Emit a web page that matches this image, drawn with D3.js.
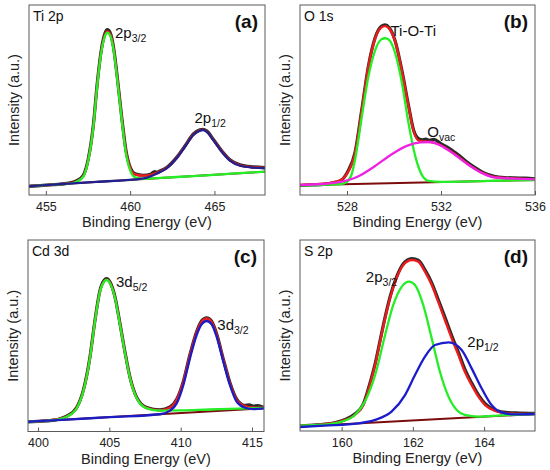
<!DOCTYPE html>
<html>
<head>
<meta charset="utf-8">
<script src="https://cdn.jsdelivr.net/npm/d3@7"></script>
<style>
  body { margin: 0; background: #fff; }
  svg { font-family: "Liberation Sans", Arial, sans-serif; }
</style>
</head>
<body>
<div id="chart"></div>
<script>
/* XPS spectra, four panels: Ti 2p, O 1s, Cd 3d, S 2p */

// ---- (a) Ti 2p : [binding energy, intensity %] ----
var tiTicks = [455, 460, 465];
var tiBg = [[454, 4.7], [468, 12.3]];
var tiData = [[454,4.5],[455,5.2],[456,5.9],[456.5,6.5],[456.83,7.6],[457.22,10.4],[457.52,19.2],[457.82,37],[458.06,59.8],[458.31,77.5],[458.51,85.2],[458.65,87],[458.81,85.5],[459.0,78.5],[459.24,61.8],[459.5,41],[459.75,23.6],[460.03,14],[460.29,11.2],[460.78,10.4],[461.2,10.9],[461.45,12.3],[461.6,12.0],[461.75,12.6],[462.16,14.4],[462.76,19.8],[463.25,25.8],[463.75,32.1],[464.14,34.3],[464.3,34.6],[464.54,33.8],[464.93,29.4],[465.43,23.3],[465.92,18.6],[466.52,15.9],[467.31,14.8],[468,14.4]];
var tiFit = [[454,4.7],[456.5,6.3],[456.83,7.2],[457.22,9.9],[457.52,18.8],[457.82,36.5],[458.06,59.3],[458.31,76.9],[458.51,84.4],[458.65,86.1],[458.81,84.8],[459.0,78.1],[459.24,61.5],[459.5,40.6],[459.75,23.2],[460.03,13.7],[460.29,10.8],[460.78,10.2],[461.2,10.6],[461.57,11.6],[462.16,14.2],[462.76,19.5],[463.25,25.6],[463.75,31.8],[464.14,34.0],[464.3,34.4],[464.54,33.5],[464.93,29.1],[465.43,23.0],[465.92,18.3],[466.52,15.6],[467.31,14.6],[468,14.2]];
var tiP32 = [[454,4.7],[455.5,5.5],[456.5,6.1],[456.83,7.0],[457.22,9.6],[457.52,18.4],[457.82,36],[458.06,58.8],[458.31,76.3],[458.51,83.7],[458.65,85.4],[458.81,84],[459.0,77.2],[459.24,60.5],[459.5,39.5],[459.75,21.9],[460.03,12.3],[460.29,9.3],[460.78,8.5],[462,9.1],[464,10.1],[466,11.2],[468,12.3]];
var tiP12 = [[454,4.7],[456,5.8],[458,6.9],[460,8.0],[460.5,8.4],[461,9.2],[461.57,11.2],[462.16,14.0],[462.76,19.3],[463.25,25.4],[463.75,31.6],[464.14,33.8],[464.3,34.2],[464.54,33.3],[464.93,28.9],[465.43,22.8],[465.92,18.1],[466.52,15.4],[467.31,14.4],[468,14.0]];

// ---- (b) O 1s ----
var oTicks = [528, 532, 536];
var oBg = [[526, 5.1], [536, 7.9]];
var oData = [[526,5.0],[526.5,5.3],[527,5.6],[527.4,6.4],[527.73,7.6],[528.01,11.9],[528.34,22.3],[528.63,45],[528.91,67.8],[529.2,82.9],[529.46,88.8],[529.62,89.5],[529.79,88.2],[530.05,81.1],[530.34,65.3],[530.62,47],[530.84,34],[531.06,29.5],[531.2,29.0],[531.35,29.4],[531.5,28.8],[531.7,29.3],[531.99,27],[532.3,25],[532.55,22.8],[532.8,20.5],[533.12,17.2],[533.4,14.8],[533.69,12.6],[534,10.8],[534.26,9.9],[534.7,9.2],[535.11,9.0],[535.6,8.9],[536,8.5]];
var oFit = [[526,5.3],[527,5.9],[527.73,7.9],[528.01,11.4],[528.34,21.9],[528.63,44.7],[528.91,67.5],[529.2,82.5],[529.46,88.2],[529.62,88.9],[529.79,87.7],[530.05,80.7],[530.34,64.9],[530.62,46.5],[530.84,33.3],[531.06,28.6],[531.35,28.1],[531.56,27.9],[531.99,26.2],[532.55,21.8],[533.12,16.5],[533.69,12.1],[534.26,9.5],[535.11,8.7],[536,8.3]];
var oTiOTi = [[526,5.1],[527,5.4],[527.73,5.8],[528.0,7.0],[528.2,11],[528.34,18.4],[528.63,41.2],[528.91,62.3],[529.2,76.3],[529.46,81.9],[529.62,82.5],[529.79,81.6],[530.05,74.6],[530.34,58.8],[530.62,37.7],[530.91,20.2],[531.19,10.5],[531.48,7.4],[532,6.9],[534,7.4],[536,7.9]];
var oVac = [[526,5.3],[527,5.8],[527.73,6.9],[528.44,9.6],[529.15,14.9],[529.86,21.1],[530.57,26.0],[531.13,27.7],[531.56,27.9],[531.99,26],[532.55,21.6],[533.12,16.3],[533.69,11.9],[534.26,9.3],[535.11,8.6],[536,8.2]];

// ---- (c) Cd 3d ----
var cdTicks = [400, 405, 410, 415];
var cdBg = [[399.3, 5.1], [415.84, 12.1]];
var cdData = [[399.3,5.0],[400,5.3],[401,5.8],[401.5,6.5],[402.01,8],[402.71,12.5],[403.17,21.3],[403.64,38.8],[403.99,57.9],[404.34,73.6],[404.63,78.9],[404.81,79.8],[405.05,78],[405.4,70.2],[405.75,56.2],[406.1,41.4],[406.45,28.3],[406.92,17.8],[407.62,12.5],[408.55,11.3],[409.25,12.8],[409.72,16.8],[410.19,26.3],[410.65,40.2],[411.12,52.2],[411.47,57.8],[411.82,59.4],[412.17,57.6],[412.52,51],[412.99,37.8],[413.45,25.6],[413.92,16.9],[414.3,14],[414.51,13.6],[414.8,13.9],[415.09,13.2],[415.4,13.5],[415.84,12.6]];
var cdFit = [[399.3,5.1],[401,6.0],[402.01,7.8],[402.71,12.2],[403.17,21],[403.64,38.4],[403.99,57.5],[404.34,73.2],[404.63,78.4],[404.81,79.3],[405.05,77.6],[405.4,69.8],[405.75,55.8],[406.1,41],[406.45,28],[406.92,17.5],[407.62,12.3],[408.55,11.1],[409.25,12.5],[409.72,16.5],[410.19,26],[410.65,39.8],[411.12,51.8],[411.47,57.3],[411.82,59],[412.17,57.2],[412.52,50.6],[412.99,37.4],[413.45,25.2],[413.92,16.5],[414.51,13.2],[415.09,12.5],[415.84,12.4]];
var cdD52 = [[399.3,5.1],[401,5.9],[402.01,7.7],[402.71,12.1],[403.17,20.8],[403.64,38.2],[403.99,57.3],[404.34,73.0],[404.63,78.2],[404.81,79.1],[405.05,77.4],[405.4,69.6],[405.75,55.6],[406.1,40.8],[406.45,27.8],[406.92,17.3],[407.62,12.1],[408.55,10.9],[410,11.0],[412,11.5],[414,11.9],[415.84,12.3]];
var cdD32 = [[399.3,5.1],[402,6.2],[405,7.5],[408.55,9.0],[409.25,10.9],[409.72,14.7],[410.19,24.3],[410.65,38.2],[411.12,50.4],[411.47,56.0],[411.82,57.7],[412.17,56.0],[412.52,49.5],[412.99,36.4],[413.45,24.3],[413.92,15.6],[414.51,12.4],[415.09,11.7],[415.84,12.1]];

// ---- (d) S 2p ----
var sTicks = [160, 162, 164];
var sBg = [[158.83, 2.3], [165.43, 8.9]];
var sData = [[158.83,2.6],[159.3,3.2],[159.8,4.3],[160.1,6],[160.37,8.9],[160.61,14.2],[160.79,24.8],[160.94,35.3],[161.08,47.5],[161.22,59.6],[161.36,70.3],[161.54,80.6],[161.73,87.6],[161.85,89.6],[161.97,90.3],[162.15,89.4],[162.34,84.4],[162.53,77.6],[162.71,69],[162.9,59.6],[163.09,50],[163.28,41.2],[163.46,32.4],[163.65,25.2],[163.84,18.9],[164.03,14.3],[164.31,10.9],[164.68,9.6],[165.0,9.4],[165.43,9.2]];
var sFit = [[158.83,2.8],[159.5,3.6],[160,5.2],[160.37,8.4],[160.61,13.6],[160.79,24.1],[160.94,34.6],[161.08,46.8],[161.22,59],[161.36,69.5],[161.54,79.9],[161.73,86.9],[161.97,89.5],[162.15,88.7],[162.34,83.4],[162.53,76.4],[162.71,67.7],[162.9,58.1],[163.09,48.5],[163.28,39.8],[163.46,31],[163.65,24.1],[163.84,18],[164.03,13.6],[164.31,10.5],[164.68,9.2],[165.43,8.9]];
var sP32 = [[158.83,2.8],[159.5,3.3],[160,4.9],[160.37,8.4],[160.65,15.3],[160.94,29.3],[161.22,50.3],[161.45,66],[161.69,75.6],[161.89,78.2],[162.06,76.4],[162.29,66],[162.53,48.5],[162.76,31],[163.0,18],[163.23,11],[163.46,8.4],[163.84,7.5],[164.5,8.2],[165.43,8.9]];
var sP12 = [[158.83,2.1],[159.5,2.8],[160.47,4.0],[160.94,5.8],[161.4,10.1],[161.78,18.8],[162.06,29.3],[162.34,38.9],[162.62,45],[163.01,46.4],[163.37,42.4],[163.65,32.8],[163.93,22.4],[164.21,13.6],[164.49,9.8],[164.87,8.7],[165.43,8.9]];

var width = 550, height = 470;
var svg = d3.select("#chart").append("svg")
    .attr("width", width).attr("height", height);

function panel(box, domain, ticks, title, tag, curves, notes){
    var x = d3.scaleLinear().domain(domain).range([box.x0, box.x1]);
    var y = d3.scaleLinear().domain([0, 100]).range([box.y1, box.y0]);
    var g = svg.append("g");

    var line = d3.line()
        .x(d => x(d[0])).y(d => y(d[1]))
        .curve(d3.curveMonotoneX);

    var clipId = "clip" + tag.replace(/\W/g, "");
    g.append("clipPath").attr("id", clipId).append("rect")
        .attr("x", box.x0).attr("y", box.y0)
        .attr("width", box.x1 - box.x0).attr("height", box.y1 - box.y0);

    var lines = g.append("g").attr("clip-path", "url(#" + clipId + ")");
    curves.forEach(c => {
        lines.append("path")
            .datum(c.pts)
            .attr("d", line)
            .attr("fill", "none")
            .attr("stroke", c.color)
            .attr("stroke-width", c.w)
            .attr("stroke-linejoin", "round")
            .attr("stroke-linecap", "round");
    });

    // frame
    g.append("rect")
        .attr("x", box.x0).attr("y", box.y0)
        .attr("width", box.x1 - box.x0).attr("height", box.y1 - box.y0)
        .attr("fill", "none").attr("stroke", "#5a5a5a").attr("stroke-width", 1);

    // bottom axis, ticks pointing inward
    var ax = g.append("g")
        .attr("transform", "translate(0," + box.y1 + ")")
        .call(d3.axisBottom(x).tickValues(ticks).tickFormat(d3.format("d"))
            .tickSizeInner(-4).tickSizeOuter(0).tickPadding(7));
    ax.select(".domain").remove();
    ax.selectAll("line").attr("stroke", "#5a5a5a");
    ax.selectAll("text").attr("font-size", 12.5).attr("fill", "#222")
        .attr("font-family", "Liberation Sans, Arial, sans-serif");

    g.append("text")
        .attr("x", (box.x0 + box.x1) / 2).attr("y", box.y1 + 32)
        .attr("text-anchor", "middle").attr("font-size", 14.5).attr("fill", "#222")
        .text("Binding Energy (eV)");

    g.append("text")
        .attr("transform", "translate(" + (box.x0 - 10) + "," + ((box.y0 + box.y1) / 2) + ") rotate(-90)")
        .attr("text-anchor", "middle").attr("font-size", 14.5).attr("fill", "#222")
        .text("Intensity (a.u.)");

    g.append("text")
        .attr("x", box.x0 + 4).attr("y", box.y0 + 16)
        .attr("font-size", 14).attr("fill", "#111")
        .text(title);

    g.append("text")
        .attr("x", box.x1 - 7).attr("y", box.y0 + 23)
        .attr("text-anchor", "end").attr("font-size", 19).attr("font-weight", "bold").attr("fill", "#111")
        .text(tag);

    notes.forEach(n => {
        var t = g.append("text")
            .attr("x", x(n.at[0])).attr("y", y(n.at[1]))
            .attr("font-size", 15).attr("fill", "#111");
        t.append("tspan").text(n.main);
        if (n.sub) {
            t.append("tspan").attr("font-size", 10.5).attr("dy", 4).text(n.sub);
        }
    });
}

var black = "#2a2a2a", fitRed = "#ec1c1c", grn = "#26ee26", bgRed = "#7a0c0c";

panel({x0: 29, x1: 265, y0: 5, y1: 195}, [454, 468], tiTicks, "Ti 2p", "(a)", [
    {pts: tiData, color: black, w: 3.2},
    {pts: tiBg, color: bgRed, w: 2},
    {pts: tiFit, color: fitRed, w: 2.4},
    {pts: tiP32, color: grn, w: 2.3},
    {pts: tiP12, color: "#20208e", w: 2.3}
], [
    {main: "2p", sub: "3/2", at: [459.1, 82.5]},
    {main: "2p", sub: "1/2", at: [463.82, 37.7]}
]);

panel({x0: 300, x1: 535, y0: 5, y1: 195}, [526, 536], oTicks, "O 1s", "(b)", [
    {pts: oData, color: black, w: 3.2},
    {pts: oBg, color: bgRed, w: 2},
    {pts: oFit, color: fitRed, w: 2.4},
    {pts: oTiOTi, color: grn, w: 2.3},
    {pts: oVac, color: "#ee22e2", w: 2.3}
], [
    {main: "Ti-O-Ti", at: [529.85, 83.7]},
    {main: "O", sub: "vac", at: [531.42, 30.5]}
]);

panel({x0: 28, x1: 264, y0: 240, y1: 431.5}, [399.3, 415.84], cdTicks, "Cd 3d", "(c)", [
    {pts: cdData, color: black, w: 3.2},
    {pts: cdBg, color: bgRed, w: 2},
    {pts: cdFit, color: fitRed, w: 2.4},
    {pts: cdD52, color: grn, w: 2.3},
    {pts: cdD32, color: "#1c1cc4", w: 2.3}
], [
    {main: "3d", sub: "5/2", at: [405.47, 75.6]},
    {main: "3d", sub: "3/2", at: [412.57, 53.0]}
]);

panel({x0: 300, x1: 535, y0: 240, y1: 431}, [158.83, 165.43], sTicks, "S 2p", "(d)", [
    {pts: sData, color: black, w: 3.2},
    {pts: sBg, color: bgRed, w: 2},
    {pts: sFit, color: fitRed, w: 2.4},
    {pts: sP32, color: grn, w: 2.3},
    {pts: sP12, color: "#1c1ccc", w: 2.3}
], [
    {main: "2p", sub: "3/2", at: [160.68, 77.9]},
    {main: "2p", sub: "1/2", at: [163.53, 44.1]}
]);
</script>
</body>
</html>
